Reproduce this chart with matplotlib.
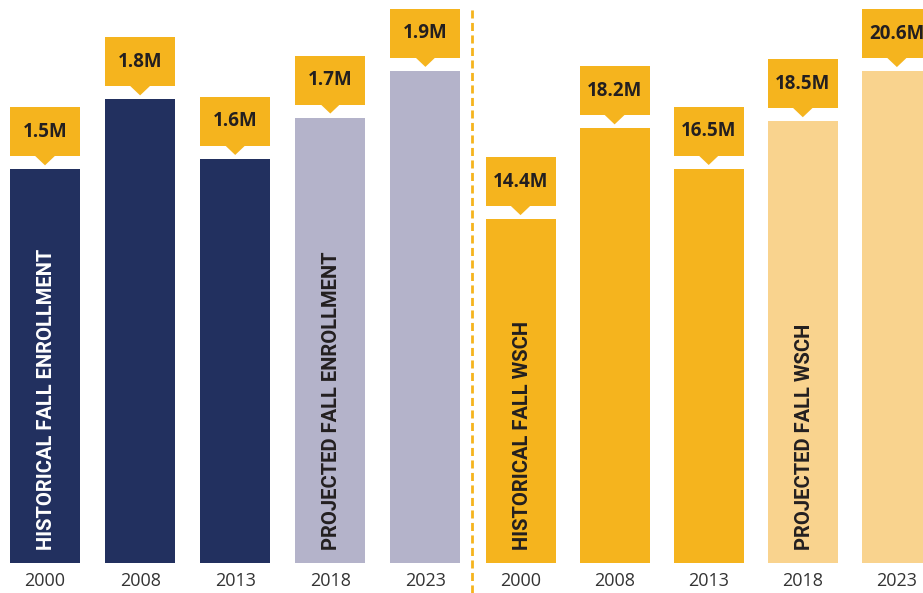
"""
Fall enrollment and WSCH, historical vs projected.
Two panels of bars with callout value labels.
"""

import matplotlib
matplotlib.use("Agg")
import matplotlib.pyplot as plt
from matplotlib.patches import Rectangle, Polygon
from matplotlib.lines import Line2D

# data (millions)
years = ["2000", "2008", "2013", "2018", "2023"]
enrollment = [1.52, 1.79, 1.56, 1.72, 1.90]
wsch = [14.4, 18.2, 16.5, 18.5, 20.6]
projected = [False, False, False, True, True]

enroll_labels = {0: "HISTORICAL FALL ENROLLMENT", 3: "PROJECTED FALL ENROLLMENT"}
wsch_labels = {0: "HISTORICAL FALL WSCH", 3: "PROJECTED FALL WSCH"}

NAVY = "#22305f"
LAVENDER = "#b4b3ca"
GOLD = "#f5b41e"
LIGHT_GOLD = "#f9d38e"
DARK = "#231f20"

W, H = 923, 593
BASE = 30  # px from bottom to bar baseline

plt.rcParams["font.family"] = ["Open Sans", "DejaVu Sans"]

fig = plt.figure(figsize=(W / 100, H / 100), dpi=100)


def make_axes(left_px, right_px, first_center, spacing, ppu):
    ax = fig.add_axes([left_px / W, BASE / H, (right_px - left_px) / W, (H - BASE) / H])
    ax.set_xlim((left_px - first_center) / spacing, (right_px - first_center) / spacing)
    ax.set_ylim(0, (H - BASE) / ppu)
    for s in ax.spines.values():
        s.set_visible(False)
    ax.set_yticks([])
    ax.set_xticks(range(len(years)))
    ax.set_xticklabels(years, fontsize=13, color="#333333")
    ax.tick_params(axis="x", length=0, pad=6.5)
    return ax


def draw_panel(ax, values, colors, fmt, inner, inner_colors, spacing, ppu):
    width = 70 / spacing
    x = list(range(len(values)))
    ax.bar(x, values, width=width, color=colors, zorder=2)
    for i, v in enumerate(values):
        # callout box + pointer
        y0 = v + 13 / ppu
        ax.add_patch(Rectangle((i - width / 2, y0), width, 49 / ppu,
                               facecolor=GOLD, edgecolor="none", zorder=3, clip_on=False))
        hw = 10 / spacing
        ax.add_patch(Polygon([(i - hw, y0 + 0.5 / ppu), (i + hw, y0 + 0.5 / ppu), (i, v + 4 / ppu)],
                             closed=True, facecolor=GOLD, edgecolor="none", zorder=3, clip_on=False))
        ax.text(i, y0 + 24.5 / ppu, fmt(v), ha="center", va="center",
                fontsize=13.5, fontweight="bold", color=DARK, zorder=4)
    for i, txt in inner.items():
        ax.text(i + 1.5 / spacing, 13 / ppu, txt, rotation=90, ha="center", va="bottom",
                fontsize=14.5, fontweight="bold", color=inner_colors[i], zorder=4,
                family=["Roboto", "Open Sans", "DejaVu Sans"])


# left panel: enrollment
ppu_l = 259.0
sp_l = 95.1
ax1 = make_axes(0, 472, 45, sp_l, ppu_l)
draw_panel(ax1, enrollment,
           [LAVENDER if p else NAVY for p in projected],
           lambda v: f"{v:.1f}M",
           enroll_labels, {0: "white", 3: DARK}, sp_l, ppu_l)

# right panel: WSCH
ppu_r = 23.88
sp_r = 94.1
ax2 = make_axes(472, W, 520.5, sp_r, ppu_r)
draw_panel(ax2, wsch,
           [LIGHT_GOLD if p else GOLD for p in projected],
           lambda v: f"{v:.1f}M",
           wsch_labels, {0: DARK, 3: DARK}, sp_r, ppu_r)

# dashed divider
fig.add_artist(Line2D([472 / W, 472 / W], [0, 1 - 9 / H], transform=fig.transFigure,
                      color=GOLD, lw=2, linestyle=(0, (2.9, 1.6))))

fig.savefig("out.png", dpi=100)
